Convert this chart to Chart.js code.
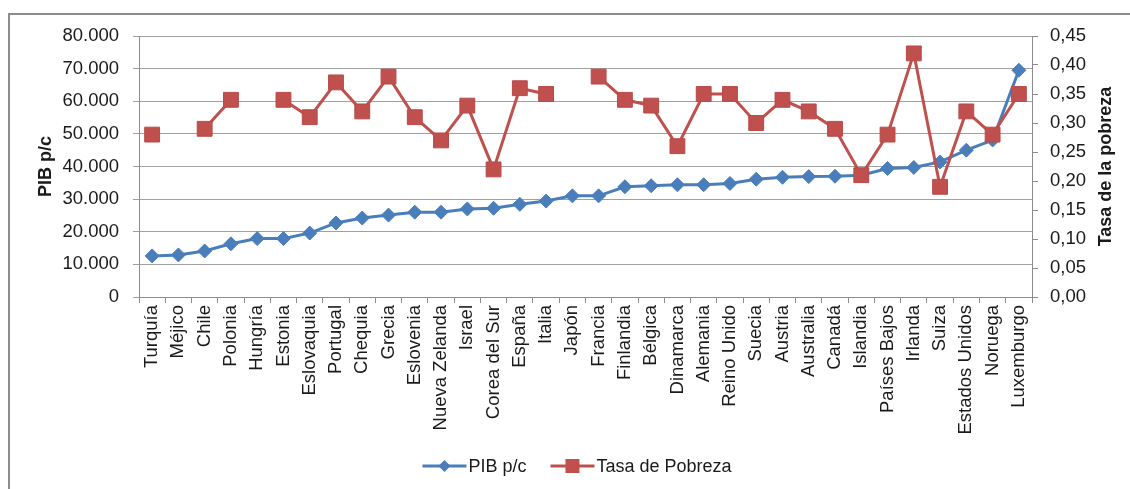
<!DOCTYPE html>
<html lang="es">
<head>
<meta charset="utf-8">
<title>PIB p/c y Tasa de Pobreza</title>
<script src="https://cdn.jsdelivr.net/npm/chart.js@4/dist/chart.umd.min.js"></script>
<style>
    html, body {
        margin: 0;
        padding: 0;
        background: #fff;
        overflow: hidden;
    }
    #marco {
        position: absolute;
        left: 8px;
        top: 13px;
        width: 1300px;
        height: 700px;
        border-left: 2px solid #8c8c8c;
        border-top: 2px solid #8c8c8c;
    }
    #wrap {
        position: absolute;
        left: 0;
        top: 0;
        width: 1130px;
        height: 489px;
    }
</style>
</head>
<body>
<div id="marco"></div>
<div id="wrap"><canvas id="grafico"></canvas></div>
<script>
// Datos por país (ordenados por PIB p/c)
const paises = [
    "Turquía", "Méjico", "Chile", "Polonia", "Hungría", "Estonia", "Eslovaquia",
    "Portugal", "Chequia", "Grecia", "Eslovenia", "Nueva Zelanda", "Israel",
    "Corea del Sur", "España", "Italia", "Japón", "Francia", "Finlandia",
    "Bélgica", "Dinamarca", "Alemania", "Reino Unido", "Suecia", "Austria",
    "Australia", "Canadá", "Islandia", "Países Bajos", "Irlanda", "Suiza",
    "Estados Unidos", "Noruega", "Luxemburgo",
];
const pibPc = [
    12600, 12900, 14100, 16300, 17900, 17900, 19600, 22700, 24200, 25100,
    26000, 26000, 27000, 27200, 28400, 29400, 31000, 31000, 33800, 34100,
    34400, 34400, 34800, 36100, 36700, 36900, 37000, 37300, 39400, 39700,
    41400, 45000, 48100, 69500,
];
// null = sin dato (la línea se corta)
const tasaPobreza = [
    0.28, null, 0.29, 0.34, null, 0.34, 0.31, 0.37, 0.32, 0.38,
    0.31, 0.27, 0.33, 0.22, 0.36, 0.35, null, 0.38, 0.34, 0.33,
    0.26, 0.35, 0.35, 0.30, 0.34, 0.32, 0.29, 0.21, 0.28, 0.42,
    0.19, 0.32, 0.28, 0.35,
];
const ticksPib = { min: 0, max: 80000, paso: 10000 };
const ticksTasa = { min: 0, max: 0.45, paso: 0.05 };

const AZUL = "#4a7ebb";
const ROJO = "#c0504d";
const GRIS = "#8c8c8c";
const TEXTO = "#1a1a1a";
const FUENTE = "'Liberation Sans', Arial, sans-serif";

// Títulos de los ejes (ambos se leen de abajo hacia arriba)
const titulosEjes = {
    id: "titulosEjes",
    afterDraw(chart) {
        const { ctx, chartArea } = chart;
        const cy = (chartArea.top + chartArea.bottom) / 2;
        ctx.save();
        ctx.font = "bold 18px " + FUENTE;
        ctx.fillStyle = TEXTO;
        ctx.textAlign = "center";
        ctx.textBaseline = "middle";
        [[46, "PIB p/c"], [1106, "Tasa de la pobreza"]].forEach(([x, t]) => {
            ctx.save();
            ctx.translate(x, cy);
            ctx.rotate(-Math.PI / 2);
            ctx.fillText(t, 0, 0);
            ctx.restore();
        });
        ctx.restore();
    },
};

// Leyenda inferior: línea con marcador + nombre de la serie
const leyenda = {
    id: "leyenda",
    afterDraw(chart) {
        const { ctx } = chart;
        const y = 466;
        const largo = 44;
        ctx.save();
        ctx.font = "18px " + FUENTE;
        const items = chart.data.datasets.map((ds) => ({
            ds,
            ancho: largo + 2 + ctx.measureText(ds.label).width,
        }));
        const sep = 24;
        const total = items.reduce((a, it) => a + it.ancho, 0) + sep * (items.length - 1);
        let x = 577 - total / 2;
        items.forEach(({ ds, ancho }) => {
            const color = ds.borderColor;
            ctx.strokeStyle = color;
            ctx.lineWidth = 3;
            ctx.beginPath();
            ctx.moveTo(x, y);
            ctx.lineTo(x + largo, y);
            ctx.stroke();
            ctx.fillStyle = color;
            const cx = x + largo / 2;
            ctx.beginPath();
            if (ds.pointStyle === "rectRot") {
                ctx.moveTo(cx, y - 6);
                ctx.lineTo(cx + 6, y);
                ctx.lineTo(cx, y + 6);
                ctx.lineTo(cx - 6, y);
                ctx.closePath();
            } else {
                ctx.rect(cx - 7, y - 7, 14, 14);
            }
            ctx.fill();
            ctx.fillStyle = TEXTO;
            ctx.textBaseline = "middle";
            ctx.textAlign = "left";
            ctx.fillText(ds.label, x + largo + 2, y + 1);
            x += ancho + sep;
        });
        ctx.restore();
    },
};

const miles = (v) => String(v).replace(/\B(?=(\d{3})+(?!\d))/g, ".");

const ctx = document.getElementById("grafico").getContext("2d");
new Chart(ctx, {
    type: "line",
    data: {
        labels: paises,
        datasets: [
            {
                label: "PIB p/c",
                data: pibPc,
                yAxisID: "y",
                order: 1,
                borderColor: AZUL,
                backgroundColor: AZUL,
                borderWidth: 3,
                pointStyle: "rectRot",
                pointRadius: 7,
                pointBorderWidth: 1,
                pointBorderColor: AZUL,
                pointBackgroundColor: AZUL,
                tension: 0,
            },
            {
                label: "Tasa de Pobreza",
                data: tasaPobreza,
                yAxisID: "y1",
                order: 0,
                borderColor: ROJO,
                backgroundColor: ROJO,
                borderWidth: 3,
                pointStyle: "rect",
                pointRadius: 10.5,
                pointBorderWidth: 1,
                pointBorderColor: "#b84a47",
                pointBackgroundColor: ROJO,
                spanGaps: false,
                tension: 0,
            },
        ],
    },
    options: {
        responsive: true,
        maintainAspectRatio: false,
        animation: false,
        layout: { padding: { top: 36, left: 0, right: 0, bottom: 42 } },
        scales: {
            x: {
                offset: true,
                grid: {
                    offset: true,
                    drawOnChartArea: false,
                    tickLength: 6,
                    color: GRIS,
                },
                border: { color: GRIS },
                ticks: {
                    autoSkip: false,
                    maxRotation: 90,
                    minRotation: 90,
                    padding: 2,
                    color: TEXTO,
                    font: { family: FUENTE, size: 18.5 },
                },
                afterFit: (s) => { s.height = 150; },
            },
            y: {
                position: "left",
                min: ticksPib.min,
                max: ticksPib.max,
                grid: { color: "#a0a0a0", tickLength: 6 },
                border: { color: GRIS },
                ticks: {
                    stepSize: ticksPib.paso,
                    padding: 14,
                    color: TEXTO,
                    font: { family: FUENTE, size: 18.5 },
                    callback: (v) => miles(v),
                },
                afterFit: (s) => { s.width = 139; },
            },
            y1: {
                position: "right",
                min: ticksTasa.min,
                max: ticksTasa.max,
                grid: { drawOnChartArea: false, color: GRIS, tickLength: 6 },
                border: { color: GRIS },
                ticks: {
                    stepSize: ticksTasa.paso,
                    padding: 12,
                    color: TEXTO,
                    font: { family: FUENTE, size: 18.5 },
                    callback: (v) => v.toFixed(2).replace(".", ","),
                },
                afterFit: (s) => { s.width = 98; },
            },
        },
        plugins: {
            tooltip: { enabled: false },
            legend: { display: false },
        },
    },
    plugins: [titulosEjes, leyenda],
});
</script>
</body>
</html>
